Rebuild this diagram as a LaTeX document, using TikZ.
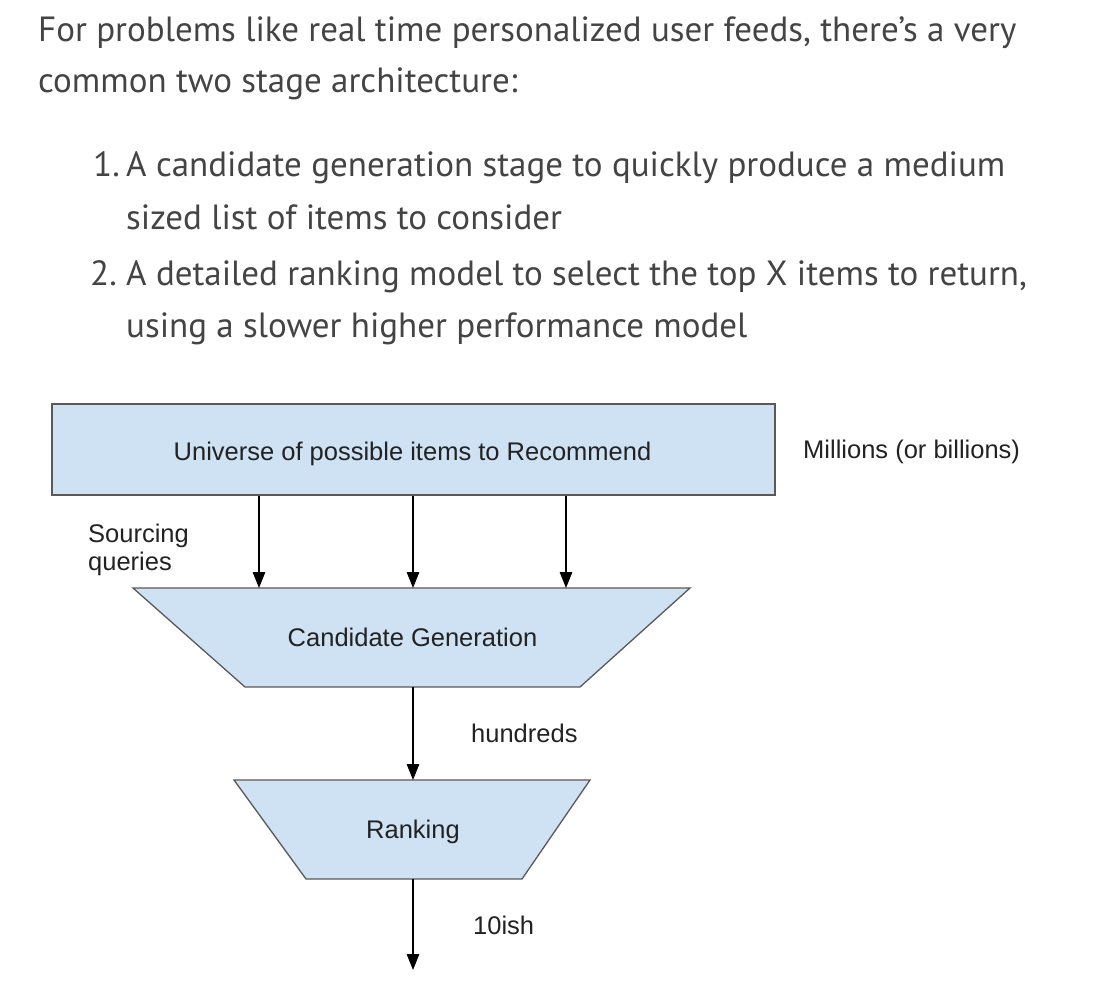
\documentclass[tikz,border=0pt]{standalone}
\usepackage{fontspec}
\setmainfont{PT Sans}
\newfontfamily\arialf{Liberation Sans}
\usetikzlibrary{arrows.meta}
\definecolor{bodytxt}{HTML}{444444}
\definecolor{boxfill}{HTML}{CFE2F3}
\definecolor{boxline}{HTML}{595959}
\definecolor{labtxt}{HTML}{222222}
\begin{document}
\begin{tikzpicture}[x=1pt,y=-1pt,
  bodyline/.style={anchor=base west,inner sep=0pt,text=bodytxt,font=\fontsize{35}{42}\selectfont},
  lab/.style={inner sep=0pt,text=labtxt,font=\arialf\fontsize{25.5}{29}\selectfont},
  shapebox/.style={fill=boxfill,draw=boxline,line width=1.3pt},
  arr/.style={draw=black,line width=1.3pt,-{Triangle[width=12.5pt,length=16pt]}}]
\useasboundingbox[fill=white] (0,0) rectangle (1110,992);
% body text
\node[bodyline] (t1) at (38,41.5) {For problems like real time personalized user feeds, there’s a very};
\node[bodyline] (t2) at (38,93) {common two stage architecture:};
\node[bodyline] (l1a) at (93,177) {1.};
\node[bodyline] (l1b) at (126,177) {A candidate generation stage to quickly produce a medium};
\node[bodyline] (l1c) at (126,230) {sized list of items to consider};
\node[bodyline] (l2a) at (90,285) {2.};
\node[bodyline] (l2b) at (126,285) {A detailed ranking model to select the top X items to return,};
\node[bodyline] (l2c) at (126,337) {using a slower higher performance model};
% universe box
\node[shapebox,minimum width=723pt,minimum height=91pt,inner sep=0pt] (univ) at (413.5,449.5) {};
\node[lab,anchor=base] (univt) at (412.5,460) {Universe of possible items to Recommend};
\node[lab,anchor=base west] (mil) at (803,458) {Millions (or billions)};
\node[lab,anchor=base west] (src) at (88,542) {Sourcing};
\node[lab,anchor=base west] (src2) at (88,570) {queries};
% candidate generation trapezoid
\path[shapebox] (133,588) -- (690,588) -- (580,687) -- (245,687) -- cycle;
\coordinate (a1) at (259,588);
\coordinate (a2) at (413,588);
\coordinate (a3) at (566,588);
\coordinate (cgout) at (413,687);
\node[lab,anchor=base] (cg) at (412.5,646.5) {Candidate Generation};
% ranking trapezoid
\path[shapebox] (234,780) -- (590,780) -- (522,879) -- (306,879) -- cycle;
\coordinate (rkin) at (413,780);
\coordinate (rkout) at (413,879);
\coordinate (fin) at (413,970);
\node[lab,anchor=base] (rk) at (413,838) {Ranking};
\node[lab,anchor=base west] (hund) at (471,742) {hundreds};
\node[lab,anchor=base west] (ten) at (473,934) {10ish};
% arrows
\draw[arr] (univ.south -| a1) -- (a1);
\draw[arr] (univ.south -| a2) -- (a2);
\draw[arr] (univ.south -| a3) -- (a3);
\draw[arr] (cgout) -- (rkin);
\draw[arr] (rkout) -- (fin);
\end{tikzpicture}
\end{document}
